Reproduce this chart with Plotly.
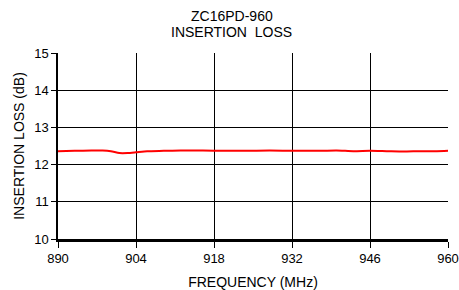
import plotly.graph_objects as go

freq = [890, 893, 896, 898, 899.5, 901, 902.5, 904, 906, 909, 912, 916, 920, 924, 928, 932, 936, 940, 943, 946, 949, 952, 955, 958, 960]
loss = [12.36, 12.37, 12.38, 12.38, 12.36, 12.31, 12.31, 12.33, 12.36, 12.37, 12.38, 12.38, 12.37, 12.37, 12.38, 12.37, 12.37, 12.38, 12.36, 12.37, 12.36, 12.35, 12.36, 12.36, 12.37]

x_ticks = [890, 904, 918, 932, 946, 960]
y_ticks = [10, 11, 12, 13, 14, 15]

font = "Liberation Sans, Arial, sans-serif"
fs = 13
ft = 14

fig = go.Figure()
fig.add_trace(go.Scatter(x=freq, y=loss, mode="lines", line=dict(color="#ff0000", width=2, shape="spline", smoothing=0.6), hoverinfo="skip"))

fig.update_layout(
    width=459, height=290,
    margin=dict(l=58, r=11, t=53, b=51, autoexpand=False),
    paper_bgcolor="white", plot_bgcolor="white",
    showlegend=False,
    font=dict(family=font, size=fs, color="black"),
    annotations=[
        dict(text="ZC16PD-960", xref="paper", yref="paper", x=0.446, y=1.0, yshift=37, xanchor="center", yanchor="middle",
             showarrow=False, font=dict(family=font, size=ft, color="black")),
        dict(text="INSERTION  LOSS", xref="paper", yref="paper", x=0.446, y=1.0, yshift=21, xanchor="center", yanchor="middle",
             showarrow=False, font=dict(family=font, size=ft, color="black")),
    ],
)
fig.update_xaxes(range=[890, 960], tickvals=x_ticks, ticktext=[str(v) for v in x_ticks],
                 showgrid=True, gridcolor="black", gridwidth=1,
                 showline=True, linecolor="black", linewidth=2.5,
                 ticks="outside", ticklen=6, tickcolor="black", tickwidth=1,
                 zeroline=False, automargin=False,
                 title=dict(text="FREQUENCY (MHz)", standoff=12, font=dict(family=font, size=ft)),
                 tickfont=dict(family=font, size=fs))
fig.update_yaxes(range=[10, 15], tickvals=y_ticks,
                 showgrid=True, gridcolor="black", gridwidth=1,
                 showline=True, linecolor="black", linewidth=1.5,
                 ticks="outside", ticklen=5, tickcolor="black", tickwidth=1,
                 zeroline=False, automargin=False,
                 title=dict(text="INSERTION LOSS (dB)", standoff=6, font=dict(family=font, size=ft)),
                 tickfont=dict(family=font, size=fs))

fig.write_html("out.html", config={"displayModeBar": False},
               post_script="document.body.style.margin='0';document.body.style.overflow='hidden';")
